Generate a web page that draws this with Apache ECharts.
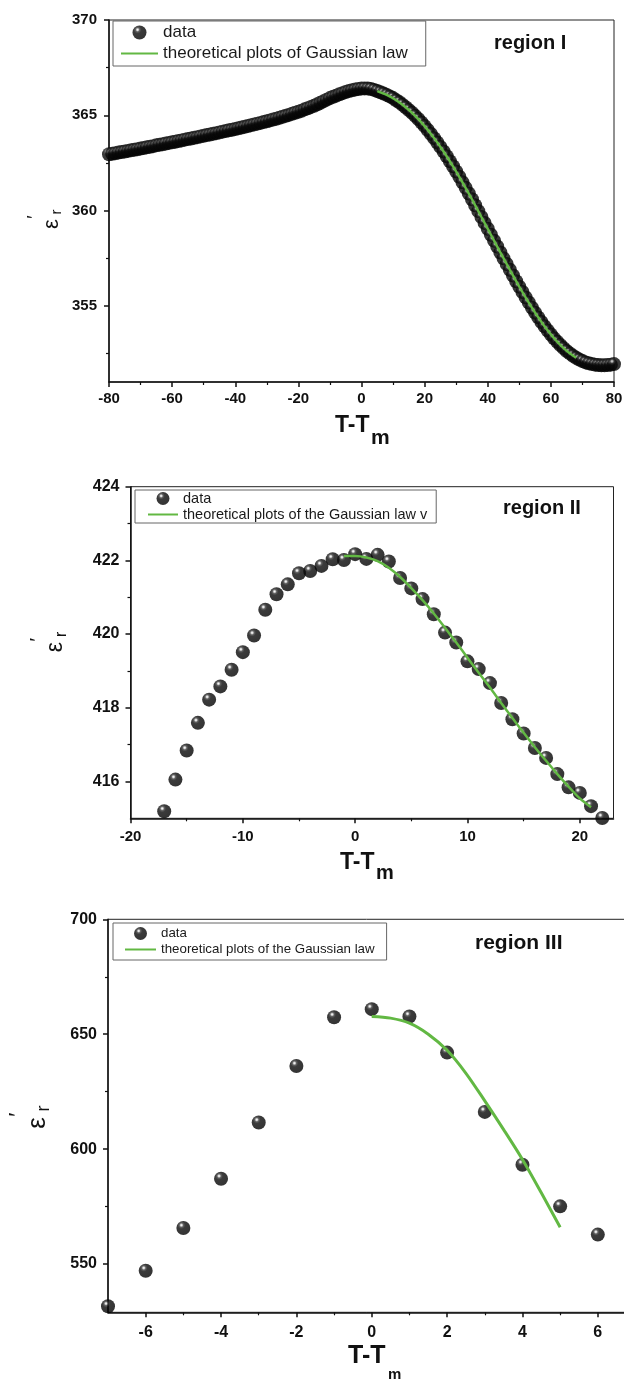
<!DOCTYPE html>
<html>
<head>
<meta charset="utf-8">
<script src="https://cdn.jsdelivr.net/npm/echarts@6/dist/echarts.min.js"></script>
<style>
html,body{margin:0;padding:0;background:#fff;}
#chart{width:624px;height:1384px;}
</style>
</head>
<body>
<div id="chart"></div>
<script>
// ---------------- DATA ----------------
// Region I
const p1X = [-80,-79,-78,-77,-76,-75,-74,-73,-72,-71,-70,-69,-68,-67,-66,-65,-64,-63,-62,-61,
-60,-59,-58,-57,-56,-55,-54,-53,-52,-51,-50,-49,-48,-47,-46,-45,-44,-43,-42,-41,
-40,-39,-38,-37,-36,-35,-34,-33,-32,-31,-30,-29,-28,-27,-26,-25,-24,-23,-22,-21,
-20,-19,-18,-17,-16,-15,-14,-13,-12,-11,-10,-9,-8,-7,-6,-5,-4,-3,-2,-1,0,
1,2,3,4,5,6,7,8,9,10,11,12,13,14,15,16,17,18,19,20,21,22,23,24,25,26,27,28,29,30,
31,32,33,34,35,36,37,38,39,40,41,42,43,44,45,46,47,48,49,50,51,52,53,54,55,56,57,58,59,60,
61,62,63,64,65,66,67,68,69,70,71,72,73,74,75,76,77,78,79,80];
const p1Y = [362.95,362.98,363.01,363.04,363.07,363.10,363.13,363.16,363.19,363.22,
363.25,363.28,363.32,363.35,363.38,363.42,363.45,363.48,363.52,363.55,
363.58,363.61,363.65,363.68,363.72,363.75,363.78,363.82,363.85,363.89,
363.92,363.96,363.99,364.03,364.06,364.10,364.14,364.17,364.21,364.24,
364.28,364.32,364.36,364.40,364.44,364.48,364.52,364.56,364.60,364.64,
364.68,364.73,364.78,364.82,364.87,364.92,364.97,365.02,365.08,365.13,
365.18,365.24,365.31,365.37,365.44,365.50,365.58,365.66,365.74,365.82,
365.90,365.97,366.03,366.10,366.16,366.22,366.27,366.31,366.35,366.38,
366.40,
366.41,366.40,366.38,366.33,366.27,366.21,366.14,366.07,365.99,365.90,
365.79,365.68,365.55,365.42,365.28,365.13,364.97,364.80,364.62,364.43,
364.23,364.02,363.80,363.57,363.34,363.10,362.85,362.59,362.32,362.05,
361.77,361.48,361.19,360.89,360.59,360.28,359.97,359.66,359.35,359.04,
358.73,358.42,358.11,357.80,357.49,357.19,356.89,356.59,356.29,356.00,
355.72,355.44,355.17,354.90,354.64,354.39,354.15,353.92,353.70,353.49,
353.29,353.11,352.94,352.78,352.63,352.50,352.38,352.27,352.18,352.10,
352.03,351.98,351.94,351.91,351.89,351.88,351.88,351.89,351.91,351.94];
const p1FitX = [5,8,11,14,17,20,23,26,29,32,35,38,41,44,47,50,53,56,59,62,65,68];
const p1FitY = [366.27,366.07,365.79,365.42,364.97,364.43,363.80,363.10,362.32,361.48,360.59,
359.66,358.73,357.80,356.89,356.00,355.17,354.39,353.70,353.11,352.63,352.27];
const p1XTicks = [-80,-60,-40,-20,0,20,40,60,80];
const p1XMinor = [-70,-50,-30,-10,10,30,50,70];
const p1YTicks = [355,360,365,370];
const p1YMinor = [352.5,357.5,362.5,367.5];
const p1FitName = 'theoretical plots of Gaussian law';

// Region II
const p2X = [-17,-16,-15,-14,-13,-12,-11,-10,-9,-8,-7,-6,-5,-4,-3,-2,-1,0,1,2,3,4,5,6,7,8,9,10,
11,12,13,14,15,16,17,18,19,20,21,22];
const p2Y = [415.19,416.05,416.84,417.59,418.22,418.58,419.03,419.51,419.96,420.66,421.08,421.35,
421.65,421.71,421.85,422.03,422.01,422.17,422.04,422.15,421.97,421.52,421.24,420.95,420.54,
420.04,419.77,419.26,419.05,418.67,418.13,417.69,417.30,416.91,416.64,416.20,415.84,415.69,
415.33,415.01];
const p2FitX = [-1,0,1,2,3,4,5,6,7,8,9,10,11,12,13,14,15,16,17,18,19,20,21];
const p2FitY = [422.12,422.12,422.08,421.98,421.80,421.55,421.25,420.92,420.56,420.17,419.77,
419.36,418.95,418.55,418.13,417.72,417.32,416.93,416.56,416.20,415.86,415.54,415.30];
const p2XTicks = [-20,-10,0,10,20];
const p2XMinor = [-15,-5,5,15];
const p2YTicks = [416,418,420,422,424];
const p2YMinor = [417,419,421,423];
const p2FitName = 'theoretical plots of the Gaussian law v';

// Region III
const p3X = [-7,-6,-5,-4,-3,-2,-1,0,1,2,3,4,5,6];
const p3Y = [531.6,547.1,565.7,587.1,611.6,636.2,657.4,660.9,657.7,642.0,616.2,593.2,575.1,562.8];
const p3FitX = [0,0.5,1,1.5,2,2.5,3,3.5,4,4.5,5];
const p3FitY = [657.7,657.0,654.8,650.0,643.0,633.0,621.0,608.5,595.5,581.0,566.0];
const p3XTicks = [-6,-4,-2,0,2,4,6];
const p3XMinor = [-5,-3,-1,1,3,5];
const p3YTicks = [550,600,650,700];
const p3YMinor = [575,625,675];
const p3FitName = 'theoretical plots of the Gaussian law';

// ---------------- STYLE ----------------
const FONT = '"Liberation Sans", Arial, Helvetica, sans-serif';
const GREEN = '#62b843';
const INK = '#111';

function sphere() {
  return new echarts.graphic.RadialGradient(0.36, 0.3, 0.75, [
    {offset: 0, color: '#ffffff'},
    {offset: 0.08, color: '#d4d4d4'},
    {offset: 0.2, color: '#3a3a3a'},
    {offset: 0.36, color: '#0a0a0a'},
    {offset: 1, color: '#000000'}
  ]);
}
function pairs(xs, ys) { return xs.map((x, i) => [x, ys[i]]); }

function mainAxis(kind, grid, min, max, ticks, fs, margin) {
  return {
    type: 'value', gridIndex: grid, min: min, max: max,
    position: kind === 'x' ? 'bottom' : 'left',
    axisLine: {show: true, onZero: false, lineStyle: {color: INK, width: 1.5}},
    axisTick: {show: true, inside: false, length: 5, customValues: ticks, lineStyle: {color: INK, width: 1.5}},
    axisLabel: {show: true, customValues: ticks, fontSize: fs, fontWeight: 'bold', color: INK,
      fontFamily: FONT, margin: margin},
    splitLine: {show: false}
  };
}
function minorAxis(kind, grid, min, max, ticks) {
  return {
    type: 'value', gridIndex: grid, min: min, max: max,
    position: kind === 'x' ? 'bottom' : 'left',
    axisLine: {show: false, onZero: false},
    axisTick: {show: true, inside: false, length: 3, customValues: ticks, lineStyle: {color: INK, width: 1.2}},
    axisLabel: {show: false},
    splitLine: {show: false}
  };
}
function legendFor(left, top, fitName, fs, iw, ih, pad, gap) {
  return {
    orient: 'vertical', left: left, top: top, selectedMode: false,
    backgroundColor: '#fff', borderColor: '#666', borderWidth: 1, borderRadius: 0,
    padding: pad, itemGap: gap, itemWidth: iw, itemHeight: ih,
    textStyle: {fontSize: fs, color: '#1a1a1a', fontFamily: FONT},
    data: [
      {name: 'data', icon: 'circle', itemStyle: {color: sphere(), borderWidth: 0}},
      {name: fitName, itemStyle: {color: 'rgba(0,0,0,0)', opacity: 0, borderWidth: 0}}
    ]
  };
}
function xTitle(x, y, size, subSize, subDx, subDy) {
  return [
    {type: 'text', x: x, y: y, style: {text: 'T-T', font: 'bold ' + size + 'px ' + FONT, fill: INK,
      align: 'left', verticalAlign: 'middle', textAlign: 'left', textVerticalAlign: 'middle'}},
    {type: 'text', x: x + subDx, y: y + subDy, style: {text: 'm', font: 'bold ' + subSize + 'px ' + FONT, fill: INK,
      align: 'left', verticalAlign: 'middle', textAlign: 'left', textVerticalAlign: 'middle'}}
  ];
}
function yTitle(x, y, s) {
  const t = (txt, px, lx, ly) => ({type: 'text', x: lx, y: ly, style: {text: txt, font: px + 'px ' + FONT, fill: INK,
    align: 'center', verticalAlign: 'middle', textAlign: 'center', textVerticalAlign: 'middle'}});
  return {type: 'group', x: x, y: y, rotation: Math.PI / 2, children: [
    t('ε', Math.round(22 * s), 0, 0),
    t('r', Math.round(15 * s), 12 * s, 5 * s),
    t('\u2032', Math.round(18 * s), 7 * s, -17 * s)
  ]};
}
function regionLabel(x, y, txt, size) {
  return {type: 'text', x: x, y: y, style: {text: txt, font: 'bold ' + size + 'px ' + FONT, fill: INK,
    align: 'left', verticalAlign: 'middle', textAlign: 'left', textVerticalAlign: 'middle'}};
}

const chart = echarts.init(document.getElementById('chart'), null, {renderer: 'canvas'});
const gridBase = {show: true, borderColor: '#222', borderWidth: 1, backgroundColor: 'transparent',
  containLabel: false, outerBoundsMode: 'none'};

const option = {
  backgroundColor: '#fff',
  animation: false,
  textStyle: {fontFamily: FONT},
  grid: [
    Object.assign({left: 109, top: 20, width: 505, height: 362}, gridBase),
    Object.assign({left: 130.5, top: 486.7, width: 483, height: 331.6}, gridBase),
    Object.assign({left: 108, top: 919.3, width: 527.5, height: 393}, gridBase)
  ],
  xAxis: [
    mainAxis('x', 0, -80, 80, p1XTicks, 15, 9),
    mainAxis('x', 1, -20, 23, p2XTicks, 15, 11),
    mainAxis('x', 2, -7, 7, p3XTicks, 16, 12),
    minorAxis('x', 0, -80, 80, p1XMinor),
    minorAxis('x', 1, -20, 23, p2XMinor),
    minorAxis('x', 2, -7, 7, p3XMinor)
  ],
  yAxis: [
    mainAxis('y', 0, 351, 370, p1YTicks, 15, 12),
    mainAxis('y', 1, 415, 424, p2YTicks, 16, 11),
    mainAxis('y', 2, 529, 700, p3YTicks, 16, 11),
    minorAxis('y', 0, 351, 370, p1YMinor),
    minorAxis('y', 1, 415, 424, p2YMinor),
    minorAxis('y', 2, 529, 700, p3YMinor)
  ],
  legend: [
    legendFor(113, 21, p1FitName, 17, 37, 14, [3, 18, 4, 7], 4),
    legendFor(135, 490, p2FitName, 14.5, 30, 13, [1, 9, 1, 12], 1),
    legendFor(113, 923, p3FitName, 13.3, 31, 13, [4, 12, 4, 11], 3)
  ],
  series: [
    {name: 'data', type: 'scatter', xAxisIndex: 0, yAxisIndex: 0, data: pairs(p1X, p1Y),
      symbol: 'circle', symbolSize: 14, itemStyle: {color: sphere()}, z: 2, silent: true},
    {name: p1FitName, type: 'line', xAxisIndex: 0, yAxisIndex: 0, data: pairs(p1FitX, p1FitY),
      symbol: 'none', showSymbol: false, smooth: 0.3, lineStyle: {color: GREEN, width: 2.4},
      itemStyle: {color: GREEN}, z: 3, silent: true},
    {name: 'data', type: 'scatter', xAxisIndex: 1, yAxisIndex: 1, data: pairs(p2X, p2Y),
      symbol: 'circle', symbolSize: 14, itemStyle: {color: sphere()}, z: 2, silent: true},
    {name: p2FitName, type: 'line', xAxisIndex: 1, yAxisIndex: 1, data: pairs(p2FitX, p2FitY),
      symbol: 'none', showSymbol: false, smooth: 0.3, lineStyle: {color: GREEN, width: 2.5},
      itemStyle: {color: GREEN}, z: 3, silent: true},
    {name: 'data', type: 'scatter', xAxisIndex: 2, yAxisIndex: 2, data: pairs(p3X, p3Y),
      symbol: 'circle', symbolSize: 14, itemStyle: {color: sphere()}, z: 2, silent: true},
    {name: p3FitName, type: 'line', xAxisIndex: 2, yAxisIndex: 2, data: pairs(p3FitX, p3FitY),
      symbol: 'none', showSymbol: false, smooth: 0.3, lineStyle: {color: GREEN, width: 3},
      itemStyle: {color: GREEN}, z: 3, silent: true}
  ],
  graphic: [
    regionLabel(494, 43, 'region I', 20),
    regionLabel(503, 508, 'region II', 20),
    regionLabel(475, 943, 'region III', 21)
  ].concat(
    xTitle(335, 426, 23, 21, 36, 12),
    xTitle(340, 863, 23, 20, 36, 10),
    xTitle(348, 1356, 25, 15, 40, 19),
    [yTitle(52, 224, 1), yTitle(56, 647, 1.05), yTitle(38, 1123, 1.2)]
  )
};
chart.setOption(option);
</script>
</body>
</html>
